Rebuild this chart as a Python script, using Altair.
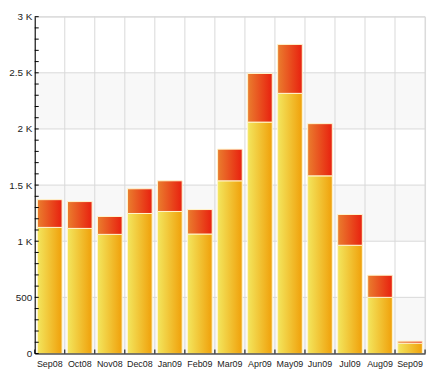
import altair as alt
import pandas as pd

months = ["Sep08", "Oct08", "Nov08", "Dec08", "Jan09", "Feb09", "Mar09",
          "Apr09", "May09", "Jun09", "Jul09", "Aug09", "Sep09"]
base_vals = [1123, 1114, 1061, 1247, 1265, 1064, 1538, 2061, 2317, 1582, 964, 500, 92]
total_vals = [1370, 1353, 1220, 1467, 1538, 1282, 1820, 2494, 2753, 2047, 1238, 697, 110]
y_ticks = [0, 500, 1000, 1500, 2000, 2500, 3000]
band_starts = [0, 1000, 2000]
minor_ticks = list(range(0, 3001, 100))

W, H = 394, 340
STEP = W / 13.0
OFF = -0.09 * STEP

bars = pd.DataFrame({"month": months, "base": base_vals, "total": total_vals})
grid = pd.DataFrame({"base": y_ticks[1:]})
bands = pd.DataFrame({"base": band_starts, "v2": [b + 500 for b in band_starts]})
mticks = pd.DataFrame({"base": minor_ticks})
mdf = pd.DataFrame({"month": months})

xscale = alt.Scale(domain=months, paddingInner=0.18, paddingOuter=0.09)
yscale = alt.Scale(domain=[0, 3000], nice=False)

x_axis = alt.Axis(title=None, ticks=False, grid=False, domainColor="#000000",
                  labelFont="Liberation Sans", labelFontSize=9, labelColor="#222222",
                  labelPadding=6, zindex=1, labelAngle=0)
y_axis = alt.Axis(title=None, ticks=False, grid=False, domainColor="#000000",
                  values=y_ticks, labelFont="Liberation Sans", labelFontSize=10,
                  labelColor="#222222", labelPadding=3, zindex=1,
                  labelExpr="datum.value >= 1000 ? (datum.value/1000) + ' K' : datum.label")

band_layer = alt.Chart(bands).mark_rect(color="#f8f8f8").encode(
    x=alt.value(0), x2=alt.value(W),
    y=alt.Y("base:Q", scale=yscale, axis=y_axis), y2="v2:Q")

hgrid = alt.Chart(grid).mark_rule(color="#d9d9d9", strokeWidth=1).encode(
    x=alt.value(0), x2=alt.value(W),
    y=alt.Y("base:Q", scale=yscale, axis=y_axis))

vgrid = alt.Chart(mdf).mark_rule(color="#d9d9d9", strokeWidth=1, xOffset=OFF).encode(
    x=alt.X("month:N", scale=xscale, bandPosition=0, axis=x_axis),
    y=alt.value(0), y2=alt.value(H))

right_grid = alt.Chart(mdf.head(1)).mark_rule(color="#d9d9d9", strokeWidth=1).encode(
    x=alt.value(W), y=alt.value(0), y2=alt.value(H))

yellow = {"gradient": "linear", "x1": 0, "x2": 1, "y1": 0, "y2": 0,
          "stops": [{"offset": 0, "color": "#f3e65e"}, {"offset": 1, "color": "#f0a00a"}]}
red = {"gradient": "linear", "x1": 0, "x2": 1, "y1": 0, "y2": 0,
       "stops": [{"offset": 0, "color": "#ea7e2e"}, {"offset": 1, "color": "#e8200f"}]}

base_bar = alt.Chart(bars).mark_bar(color=yellow, stroke="#fff6cc", strokeWidth=1).encode(
    x=alt.X("month:N", scale=xscale, axis=x_axis),
    y=alt.Y("base:Q", scale=yscale, axis=y_axis),
    y2=alt.Y2(datum=0))

top_bar = alt.Chart(bars).mark_bar(color=red, stroke="#fff6cc", strokeWidth=1).encode(
    x=alt.X("month:N", scale=xscale, axis=x_axis),
    y=alt.Y("total:Q", scale=yscale, axis=y_axis),
    y2="base:Q")

yticks_layer = alt.Chart(mticks).mark_rule(color="#000000", strokeWidth=1).encode(
    x=alt.value(0), x2=alt.value(4),
    y=alt.Y("base:Q", scale=yscale, axis=y_axis))

xticks_layer = alt.Chart(mdf).mark_rule(color="#000000", strokeWidth=1, xOffset=OFF).encode(
    x=alt.X("month:N", scale=xscale, bandPosition=0, axis=x_axis),
    y=alt.value(H), y2=alt.value(H - 4))

xtick_end = alt.Chart(mdf.head(1)).mark_rule(color="#000000", strokeWidth=1).encode(
    x=alt.value(W), y=alt.value(H), y2=alt.value(H - 4))

chart = alt.layer(
    band_layer, hgrid, vgrid, right_grid, base_bar, top_bar,
    yticks_layer, xticks_layer, xtick_end
).properties(
    width=W, height=H,
    autosize=alt.AutoSizeParams(type="none"),
    padding={"left": 27, "top": 7, "right": 5, "bottom": 24}
).configure_view(stroke=None).configure(background="#ffffff")

chart.save("out.html", embed_options={"renderer": "svg", "actions": False})
